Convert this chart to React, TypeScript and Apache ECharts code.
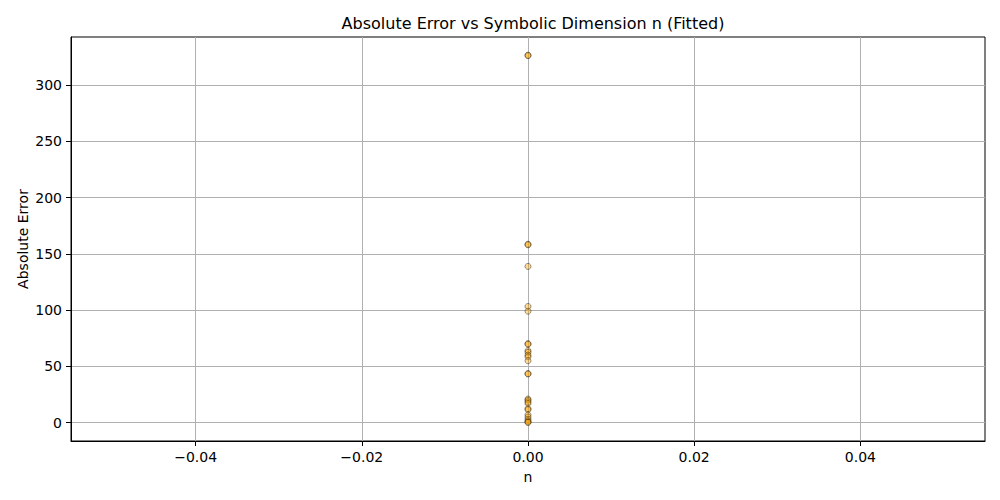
import React, { useEffect, useRef } from "react";
import * as echarts from "echarts";

const nValues: number[] = [0, 0, 0, 0, 0, 0, 0, 0, 0, 0, 0, 0, 0, 0, 0, 0, 0, 0, 0, 0, 0, 0, 0, 0, 0, 0, 0, 0];
const absErrors: number[] = [
  326.5, 326.0, 158.5, 158.0, 138.8, 103.2, 99.0, 70.2, 69.6, 64.0, 62.5, 60.0, 58.5, 55.0,
  43.6, 43.2, 21.0, 20.0, 18.5, 17.0, 12.5, 11.5, 7.0, 5.0, 3.0, 1.5, 0.5, 0.2,
];
const xTicks: number[] = [-0.04, -0.02, 0.0, 0.02, 0.04];
const yTicks: number[] = [0, 50, 100, 150, 200, 250, 300];

const FONT = "DejaVu Sans";

export default function App() {
  const ref = useRef<HTMLDivElement>(null);
  useEffect(() => {
    if (!ref.current) return;
    const chart = echarts.init(ref.current, undefined, { renderer: "svg" });
    const points = nValues.map((n, i) => [n, absErrors[i]]);
    chart.setOption({
      animation: false,
      backgroundColor: "#ffffff",
      title: {
        text: "Absolute Error vs Symbolic Dimension n (Fitted)",
        left: 528,
        textAlign: "center",
        top: 10,
        textStyle: { fontFamily: FONT, fontSize: 16, fontWeight: "normal", color: "#000" },
      },
      grid: {
        left: 71,
        right: 15,
        top: 37,
        bottom: 59,
        show: true,
        borderColor: "#000",
        borderWidth: 1,
        backgroundColor: "transparent",
      },
      xAxis: {
        type: "value",
        min: -0.055,
        max: 0.055,
        name: "n",
        nameLocation: "middle",
        nameGap: 29,
        nameMoveOverlap: false,
        nameTextStyle: { fontFamily: FONT, fontSize: 14, color: "#000" },
        axisLine: { show: true, onZero: false, lineStyle: { color: "#000", width: 1 } },
        axisTick: { show: true, length: 5, customValues: xTicks, lineStyle: { color: "#000" } },
        axisLabel: {
          customValues: xTicks,
          margin: 9,
          fontFamily: FONT,
          fontSize: 14,
          color: "#000",
          formatter: (v: number) => (v < 0 ? "\u2212" : "") + Math.abs(v).toFixed(2),
        },
        splitLine: { show: true, lineStyle: { color: "#b0b0b0", width: 1 } },
      },
      yAxis: {
        type: "value",
        min: -16.3,
        max: 342.6,
        name: "Absolute Error",
        nameLocation: "middle",
        nameGap: 41,
        nameMoveOverlap: false,
        nameTextStyle: { fontFamily: FONT, fontSize: 14, color: "#000" },
        axisLine: { show: true, onZero: false, lineStyle: { color: "#000", width: 1 } },
        axisTick: { show: true, length: 5, customValues: yTicks, lineStyle: { color: "#000" } },
        axisLabel: {
          customValues: yTicks,
          margin: 9,
          fontFamily: FONT,
          fontSize: 14,
          color: "#000",
          formatter: (v: number) => String(Math.round(v)),
        },
        splitLine: { show: true, lineStyle: { color: "#b0b0b0", width: 1 } },
      },
      series: [
        {
          type: "scatter",
          data: points,
          symbol: "circle",
          symbolSize: 6,
          itemStyle: {
            color: "rgba(255,165,0,0.5)",
            borderColor: "rgba(0,0,0,0.5)",
            borderWidth: 1,
          },
        },
      ],
    });
    return () => chart.dispose();
  }, []);
  return (
    <div
      ref={ref}
      style={{ position: "fixed", left: 0, top: 0, width: 1000, height: 500 }}
    />
  );
}
